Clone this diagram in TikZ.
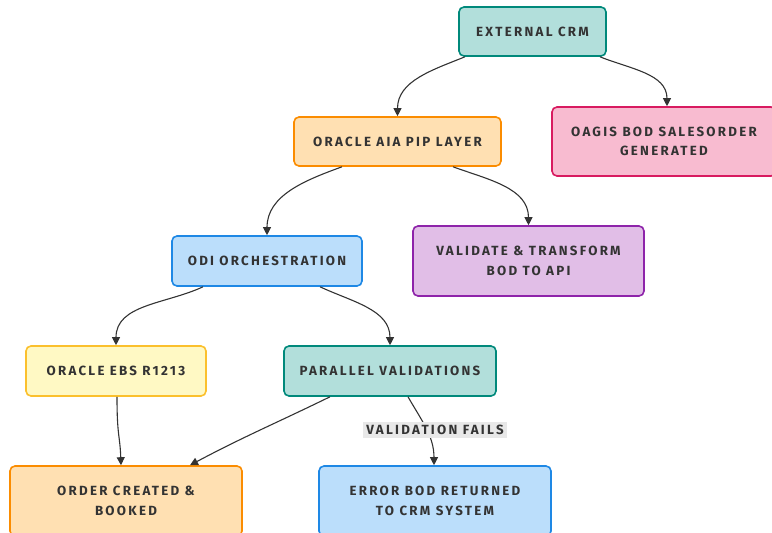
\documentclass[tikz,border=0pt]{standalone}
\usepackage{fontspec}
\setmainfont{Fira Sans}
\newfontfamily\boxfont[LetterSpace=17]{Fira Sans}
\usepackage{tikz}
\usetikzlibrary{arrows.meta}
\definecolor{ink}{HTML}{333333}
\definecolor{tealfill}{HTML}{B2DFDB}
\definecolor{tealline}{HTML}{00897B}
\definecolor{orangefill}{HTML}{FFE0B2}
\definecolor{orangeline}{HTML}{FB8C00}
\definecolor{pinkfill}{HTML}{F8BBD0}
\definecolor{pinkline}{HTML}{D81B60}
\definecolor{purplefill}{HTML}{E1BEE7}
\definecolor{purpleline}{HTML}{8E24AA}
\definecolor{bluefill}{HTML}{BBDEFB}
\definecolor{blueline}{HTML}{1E88E5}
\definecolor{yellowfill}{HTML}{FFF9C4}
\definecolor{yellowline}{HTML}{FBC02D}
\definecolor{tagbg}{HTML}{E8E8E8}

\begin{document}
\begin{tikzpicture}[
    x=1pt, y=-1pt,
    flowbox/.style={rectangle, draw, rounded corners=5pt, line width=1.6pt, align=center, inner sep=0pt, text=ink, font=\boxfont\bfseries\fontsize{13.3}{19.5}\selectfont},
    link/.style={-{Triangle[length=8pt,width=8pt]}, line width=1.1pt, draw=ink},
    tag/.style={fill=tagbg, inner sep=3pt, text=ink, font=\boxfont\bfseries\fontsize{13.3}{15}\selectfont}
]
    \useasboundingbox (0,0) rectangle (772,533);

    % Boxes, top to bottom
    \node[flowbox, fill=tealfill, draw=tealline, minimum width=147pt, minimum height=49pt] (crm) at (532.5,31.5) {EXTERNAL CRM};
    \node[flowbox, fill=orangefill, draw=orangeline, minimum width=207pt, minimum height=49pt] (aia) at (397.5,141.5) {ORACLE AIA PIP LAYER};
    \node[flowbox, fill=pinkfill, draw=pinkline, minimum width=224pt, minimum height=69pt] (oagis) at (664,141.5) {OAGIS BOD SALESORDER\\GENERATED};
    \node[flowbox, fill=bluefill, draw=blueline, minimum width=190pt, minimum height=50pt] (odi) at (267,261) {ODI ORCHESTRATION};
    \node[flowbox, fill=purplefill, draw=purpleline, minimum width=231pt, minimum height=70pt] (valid) at (528.5,261) {VALIDATE \& TRANSFORM\\BOD TO API};
    \node[flowbox, fill=yellowfill, draw=yellowline, minimum width=180pt, minimum height=50pt] (ebs) at (116,371) {ORACLE EBS R1213};
    \node[flowbox, fill=tealfill, draw=tealline, minimum width=212pt, minimum height=50pt] (par) at (390,371) {PARALLEL VALIDATIONS};
    \node[flowbox, fill=orangefill, draw=orangeline, minimum width=232pt, minimum height=70pt] (order) at (126,501) {ORDER CREATED \&\\BOOKED};
    \node[flowbox, fill=bluefill, draw=blueline, minimum width=232pt, minimum height=70pt] (err) at (435,501) {ERROR BOD RETURNED\\TO CRM SYSTEM};

    % Connectors
    \draw[link] ([xshift=-67.5pt]crm.south) to[out=202, in=90] (aia.north);
    \draw[link] ([xshift=67.5pt]crm.south) to[out=-22, in=90] ([xshift=3pt]oagis.north);
    \draw[link] ([xshift=-55.5pt]aia.south) to[out=200, in=90] (odi.north);
    \draw[link] ([xshift=55.5pt]aia.south) to[out=-20, in=90] (valid.north);
    \draw[link] ([xshift=-64pt]odi.south) to[out=205, in=90] (ebs.north);
    \draw[link] ([xshift=53pt]odi.south) to[out=-25, in=90] (par.north);
    \draw[link] ([xshift=1pt]ebs.south) .. controls +(0,40) and +(-1,-30) .. ([xshift=-5pt]order.north);
    \draw[link] ([xshift=-60pt]par.south) to[out=206, in=28] ([xshift=64pt]order.north);
    \draw[link] ([xshift=18pt]par.south) to[out=-60, in=90] ([xshift=-1pt]err.north);

    % Edge label
    \node[tag] (fails) at ([yshift=35pt]err.north) {VALIDATION FAILS};
\end{tikzpicture}
\end{document}
